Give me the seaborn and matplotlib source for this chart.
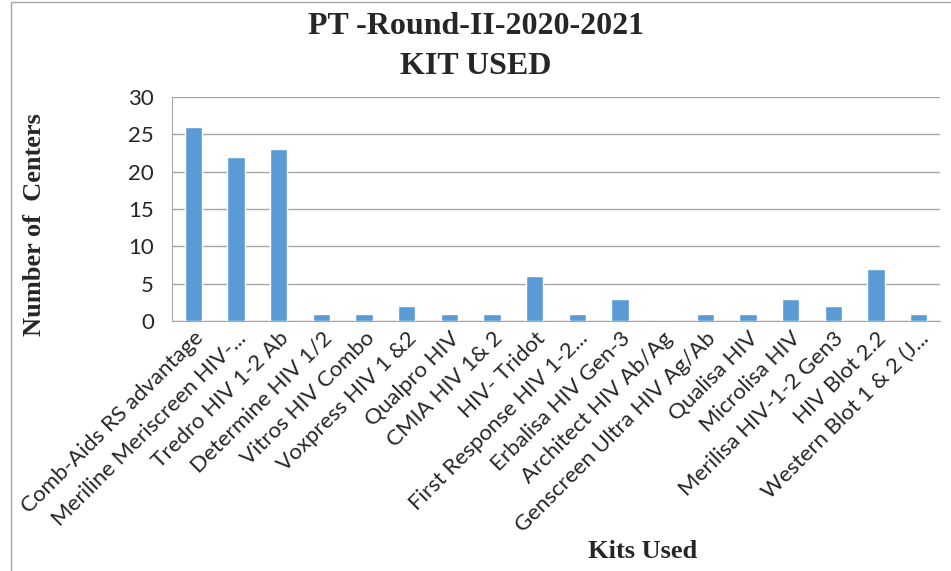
import matplotlib
matplotlib.use('Agg')
import matplotlib.pyplot as plt
import matplotlib.patches as patches
import seaborn as sns
import pandas as pd

# kit names and number of centers
kits = ['Comb-Aids RS advantage', 'Meriline Meriscreen HIV-...', 'Tredro HIV 1-2 Ab',
        'Determine HIV 1/2', 'Vitros HIV Combo', 'Voxpress HIV 1 &2', 'Qualpro HIV',
        'CMIA HIV 1& 2', 'HIV- Tridot', 'First Response HIV 1-2...', 'Erbalisa HIV Gen-3',
        'Architect HIV Ab/Ag', 'Genscreen Ultra HIV Ag/Ab', 'Qualisa HIV', 'Microlisa HIV',
        'Merilisa HIV-1-2 Gen3', 'HIV Blot 2.2', 'Western Blot 1 & 2 (J...']
centers = [26, 22, 23, 1, 1, 2, 1, 1, 6, 1, 3, 0, 1, 1, 3, 2, 7, 1]

df = pd.DataFrame({'kit': kits, 'centers': centers})

sns.set_style('white')
fig = plt.figure(figsize=(9.51, 5.71), dpi=100)
ax = fig.add_axes([172 / 951, 1 - 321 / 571, (940 - 172) / 951, (321 - 97) / 571])

sns.barplot(data=df, x='kit', y='centers', color='#5B9BD5', width=0.4,
            saturation=1, ax=ax, zorder=3)

ax.set_ylim(0, 30)
ax.set_yticks(range(0, 31, 5))
ax.set_xlim(-0.5, len(kits) - 0.5)
ax.yaxis.grid(True, color='#A6A6A6', linewidth=1)
ax.set_axisbelow(True)
for s in ['top', 'right']:
    ax.spines[s].set_visible(False)
for s in ['left', 'bottom']:
    ax.spines[s].set_color('#A6A6A6')
ax.tick_params(axis='y', length=5, color='#A6A6A6', labelsize=16, pad=8)
ax.tick_params(axis='x', length=0, labelsize=16, pad=5)
plt.setp(ax.get_xticklabels(), rotation=45, ha='right', rotation_mode='anchor',
         family='Lato')
plt.setp(ax.get_yticklabels(), family='Lato')

ax.set_xlabel('')
ax.set_ylabel('')
serif = 'Liberation Serif'
fig.text(0.5, 1 - 26 / 571, 'PT -Round-II-2020-2021', ha='center', va='center',
         family=serif, weight='bold', fontsize=23)
fig.text(0.5, 1 - 66 / 571, 'KIT USED', ha='center', va='center',
         family=serif, weight='bold', fontsize=23)
fig.text(35 / 951, 1 - 225 / 571, 'Number of  Centers', ha='center', va='center',
         rotation=90, family=serif, weight='bold', fontsize=19)
fig.text(643 / 951, 1 - 552 / 571, 'Kits Used', ha='center', va='center',
         family=serif, weight='bold', fontsize=19)

# chart border
fig.patches.append(patches.Rectangle((11 / 951, -0.01), 0.99, 1 - 2 / 571 + 0.01,
                                     transform=fig.transFigure, fill=False,
                                     edgecolor='#A6A6A6', linewidth=1))

fig.savefig('out.png', dpi=100)
